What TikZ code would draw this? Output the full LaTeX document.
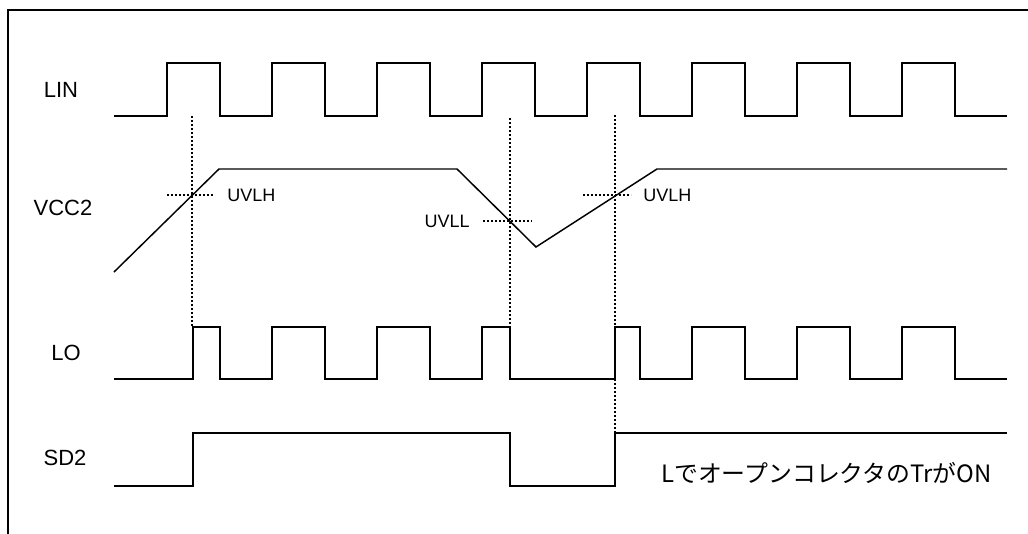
\documentclass[tikz,border=0pt]{standalone}
\usepackage{fontspec}
\setmainfont{Liberation Sans}
\newfontfamily\jpfont{Noto Sans CJK JP}
\begin{document}
\begin{tikzpicture}[x=0.75pt,y=-0.75pt,
  wave/.style={line width=1.1pt, line join=miter},
  guide/.style={line width=1.4pt, dash pattern=on 1.2pt off 1.8pt},
  frameline/.style={line width=1.1pt},
  lbl/.style={font=\fontsize{16.5}{18}\selectfont, inner sep=0pt},
  thr/.style={font=\fontsize{13.5}{15}\selectfont, inner sep=0pt},
  note/.style={font=\jpfont\fontsize{17.9}{19}\selectfont, inner sep=0pt}]
\useasboundingbox (0,0) rectangle (1028,534);
% frame
\draw[frameline] (8,545) -- (8,10) -- (1040,10);
% labels
\node[lbl] (lin) at (61,90) {LIN};
\node[lbl] (vcc) at (63,208) {VCC2};
\node[lbl] (lo) at (66,353) {LO};
\node[lbl] (sd) at (65,458) {SD2};
\node[thr, anchor=west] (uvlh1) at (227,195) {UVLH};
\node[thr, anchor=east] (uvll) at (470,221) {UVLL};
\node[thr, anchor=west] (uvlh2) at (643,195) {UVLH};
\node[note, anchor=west] (msg) at (661,473) {LでオープンコレクタのTrがON};
% LIN
\draw[wave] (114,116) \foreach \r in {167,272,...,902} { -- (\r,116) -- (\r,63) -- (\r+53,63) -- (\r+53,116) } -- (1007,116);
% VCC2
\draw[wave] (114,272) -- (219,169) -- (457,169) -- (536,247) -- (657,169) -- (1007,169);
% LO
\draw[wave] (114,379) -- (193,379) -- (193,327) -- (220,327) -- (220,379)
  -- (272,379) -- (272,327) -- (325,327) -- (325,379)
  -- (377,379) -- (377,327) -- (430,327) -- (430,379)
  -- (482,379) -- (482,327) -- (510,327) -- (510,379)
  -- (615,379) -- (615,327) -- (640,327) -- (640,379)
  -- (692,379) -- (692,327) -- (745,327) -- (745,379)
  -- (797,379) -- (797,327) -- (850,327) -- (850,379)
  -- (902,379) -- (902,327) -- (955,327) -- (955,379) -- (1007,379);
% SD2
\draw[wave] (114,486) -- (193,486) -- (193,433) -- (510,433) -- (510,486) -- (615,486) -- (615,433) -- (1007,433);
% guides
\draw[guide] (192,116) -- (192,327);
\draw[guide] (510,118) -- (510,357);
\draw[guide] (615,115) -- (615,433);
\draw[guide] (167,195) -- (213,195);
\draw[guide] (483,221) -- (532,221);
\draw[guide] (583,195) -- (631,195);
\end{tikzpicture}
\end{document}
